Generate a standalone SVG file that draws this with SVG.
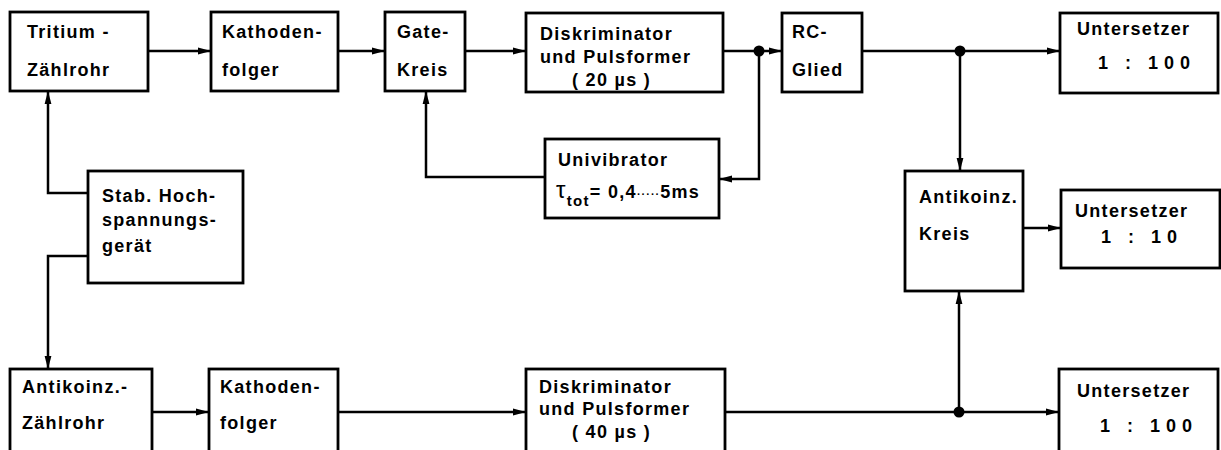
<svg xmlns="http://www.w3.org/2000/svg" width="1221" height="450" viewBox="0 0 1221 450">
<defs>
<marker id="ah" viewBox="0 0 13 8" refX="13" refY="4" markerWidth="13" markerHeight="8" markerUnits="userSpaceOnUse" orient="auto">
<path d="M0,0.6 L13,4 L0,7.4 Z" fill="#000"/>
</marker>
<style>
.box{fill:#fff;stroke:#000;stroke-width:2.8}
.t{font-family:"Liberation Sans",Arial,sans-serif;font-weight:bold;font-size:18px;letter-spacing:1.3px;fill:#000}
.c{fill:none;stroke:#000;stroke-width:2.5}
.a{marker-end:url(#ah)}
.dot{fill:#000}
.n{letter-spacing:6px}
</style>
</defs>
<rect width="1221" height="450" fill="#fff"/>
<g id="connectors">
<path class="c a" d="M148,51 H211"/>
<path class="c a" d="M338,51 H385"/>
<path class="c a" d="M465,51 H526"/>
<path class="c a" d="M723,51 H782"/>
<path class="c a" d="M862,51 H1060"/>
<path class="c a" d="M759,51 V179 H719"/>
<path class="c a" d="M545,177 H426 V91"/>
<path class="c a" d="M960,51 V171"/>
<path class="c a" d="M1023,228 H1061"/>
<path class="c a" d="M88,193 H48 V91"/>
<path class="c a" d="M88,256 H48 V369"/>
<path class="c a" d="M152,412 H209"/>
<path class="c a" d="M338,412 H526"/>
<path class="c a" d="M725,412 H1059"/>
<path class="c a" d="M959,412 V291"/>
<circle class="dot" cx="759" cy="51" r="5.5"/>
<circle class="dot" cx="960" cy="51" r="5.5"/>
<circle class="dot" cx="959" cy="412" r="5.5"/>
</g>
<g id="tritium">
<rect class="box" x="10" y="12" width="138" height="79"/>
<text class="t" x="27" y="38">Tritium -</text>
<text class="t" x="27" y="76">Zählrohr</text>
</g>
<g id="kathoden1">
<rect class="box" x="211" y="12" width="127" height="79"/>
<text class="t" x="222" y="38">Kathoden-</text>
<text class="t" x="222" y="76">folger</text>
</g>
<g id="gate">
<rect class="box" x="385" y="12" width="80" height="79"/>
<text class="t" x="397" y="38">Gate-</text>
<text class="t" x="397" y="76">Kreis</text>
</g>
<g id="diskr1">
<rect class="box" x="526" y="13" width="197" height="79"/>
<text class="t" x="540" y="40">Diskriminator</text>
<text class="t" x="540" y="63">und  Pulsformer</text>
<text class="t" x="572" y="86">( 20 µs )</text>
</g>
<g id="rc">
<rect class="box" x="782" y="13" width="80" height="79"/>
<text class="t" x="792" y="38">RC-</text>
<text class="t" x="792" y="76">Glied</text>
</g>
<g id="unters1">
<rect class="box" x="1060" y="13" width="158" height="80"/>
<text class="t" x="1077" y="35">Untersetzer</text>
<text class="t n" x="1098" y="69">1 : 100</text>
</g>
<g id="univibrator">
<rect class="box" x="545" y="139" width="174" height="79"/>
<text class="t" x="558" y="166">Univibrator</text>
<text class="t" x="556" y="198"><tspan font-size="24" font-weight="normal">τ</tspan><tspan font-size="15" dy="8">tot</tspan><tspan dy="-8">= 0,4</tspan><tspan font-size="11" letter-spacing="1">·····</tspan><tspan>5ms</tspan></text>
</g>
<g id="hochspannung">
<rect class="box" x="88" y="171" width="155" height="112"/>
<text class="t" x="102" y="202">Stab. Hoch-</text>
<text class="t" x="102" y="226">spannungs-</text>
<text class="t" x="102" y="252">gerät</text>
</g>
<g id="antikreis">
<rect class="box" x="905" y="171" width="118" height="120"/>
<text class="t" x="919" y="203">Antikoinz.</text>
<text class="t" x="919" y="240">Kreis</text>
</g>
<g id="unters2">
<rect class="box" x="1061" y="190" width="159" height="78"/>
<text class="t" x="1075" y="217">Untersetzer</text>
<text class="t n" x="1101" y="243">1 : 10</text>
</g>
<g id="antizaehl">
<rect class="box" x="10" y="369" width="142" height="90"/>
<text class="t" x="22" y="393">Antikoinz.-</text>
<text class="t" x="22" y="429">Zählrohr</text>
</g>
<g id="kathoden2">
<rect class="box" x="209" y="369" width="129" height="90"/>
<text class="t" x="220" y="393">Kathoden-</text>
<text class="t" x="220" y="429">folger</text>
</g>
<g id="diskr2">
<rect class="box" x="526" y="369" width="199" height="90"/>
<text class="t" x="539" y="393">Diskriminator</text>
<text class="t" x="539" y="415">und  Pulsformer</text>
<text class="t" x="572" y="438">( 40 µs )</text>
</g>
<g id="unters3">
<rect class="box" x="1059" y="369" width="159" height="90"/>
<text class="t" x="1077" y="397">Untersetzer</text>
<text class="t n" x="1100" y="432">1 : 100</text>
</g>
</svg>
